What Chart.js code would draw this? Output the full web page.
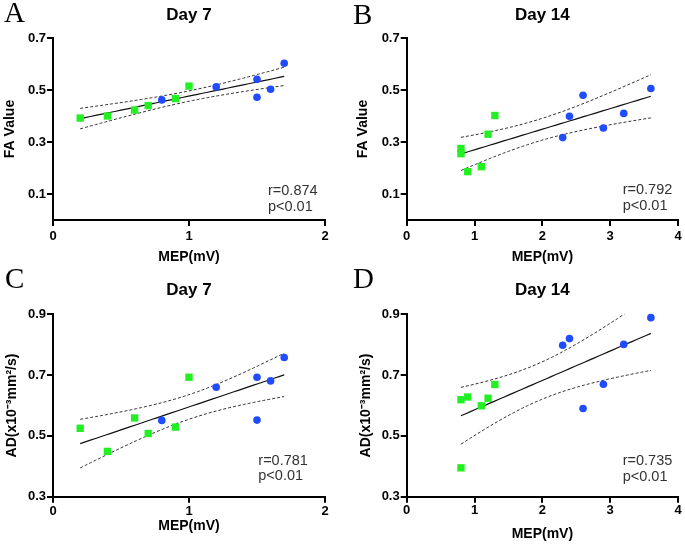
<!DOCTYPE html>
<html>
<head>
<meta charset="utf-8">
<script src="https://cdn.jsdelivr.net/npm/chart.js@4.4.1/dist/chart.umd.min.js"></script>
<style>
    body { margin: 0; background: #fff; }
    #wrap { position: relative; width: 685px; height: 545px; }
    #wrap canvas { position: absolute; left: 0; top: 0; }
</style>
</head>
<body>
<div id="wrap">
    <canvas id="pA" width="685" height="545"></canvas>
    <canvas id="pB" width="685" height="545"></canvas>
    <canvas id="pC" width="685" height="545"></canvas>
    <canvas id="pD" width="685" height="545"></canvas>
</div>
<script>
// === Data ===
// Panel A: Day 7, FA value vs MEP
const aSquareX = [0.2, 0.4, 0.6, 0.7, 0.9, 1.0];
const aSquareY = [0.392, 0.400, 0.423, 0.440, 0.467, 0.515];
const aCircleX = [0.8, 1.2, 1.5, 1.5, 1.6, 1.7];
const aCircleY = [0.462, 0.512, 0.541, 0.472, 0.503, 0.603];

// Panel B: Day 14, FA value vs MEP
const bSquareX = [0.8, 0.8, 0.9, 1.1, 1.2, 1.3];
const bSquareY = [0.275, 0.255, 0.186, 0.205, 0.330, 0.402];
const bCircleX = [2.3, 2.4, 2.6, 2.9, 3.2, 3.6];
const bCircleY = [0.317, 0.399, 0.480, 0.354, 0.410, 0.506];

// Panel C: Day 7, AD vs MEP
const cSquareX = [0.2, 0.4, 0.6, 0.7, 0.9, 1.0];
const cSquareY = [0.525, 0.449, 0.559, 0.508, 0.529, 0.693];
const cCircleX = [0.8, 1.2, 1.5, 1.5, 1.6, 1.7];
const cCircleY = [0.551, 0.660, 0.693, 0.552, 0.681, 0.758];

// Panel D: Day 14, AD vs MEP
const dSquareX = [0.8, 0.9, 1.1, 1.2, 1.3, 0.8];
const dSquareY = [0.619, 0.628, 0.599, 0.624, 0.669, 0.395];
const dCircleX = [2.3, 2.4, 2.6, 2.9, 3.2, 3.6];
const dCircleY = [0.798, 0.820, 0.590, 0.670, 0.801, 0.889];

// Ticks
const faTicks = [0.1, 0.3, 0.5, 0.7];
const adTicks = [0.3, 0.5, 0.7, 0.9];
const mepTicksDay7 = [0, 1, 2];
const mepTicksDay14 = [0, 1, 2, 3, 4];

// Stats text
const statsA = ['r=0.874', 'p<0.01'];
const statsB = ['r=0.792', 'p<0.01'];
const statsC = ['r=0.781', 'p<0.01'];
const statsD = ['r=0.735', 'p<0.01'];

const SANS = '"Liberation Sans", Arial, Helvetica, sans-serif';
const SERIF = '"Liberation Serif", "Times New Roman", serif';
const GREEN = '#22f022';
const BLUE = '#1f4cff';
const T_95 = 2.228; // t(0.975), df = 10

const pts = (xs, ys) => xs.map((x, i) => ({ x, y: ys[i] }));

// least squares line + 95% confidence band of the mean
function linFit(xs, ys) {
    const n = xs.length;
    const mx = xs.reduce((a, b) => a + b, 0) / n;
    const my = ys.reduce((a, b) => a + b, 0) / n;
    let sxx = 0, sxy = 0;
    xs.forEach((x, i) => { sxx += (x - mx) ** 2; sxy += (x - mx) * (ys[i] - my); });
    const b = sxy / sxx, a = my - b * mx;
    let sse = 0;
    xs.forEach((x, i) => { sse += (ys[i] - a - b * x) ** 2; });
    const s = Math.sqrt(sse / (n - 2));
    const lo = Math.min(...xs), hi = Math.max(...xs);
    const line = [], upper = [], lower = [];
    for (let k = 0; k <= 40; k++) {
        const x = lo + (hi - lo) * k / 40;
        const yh = a + b * x;
        const h = T_95 * s * Math.sqrt(1 / n + (x - mx) ** 2 / sxx);
        line.push({ x, y: yh });
        upper.push({ x, y: yh + h });
        lower.push({ x, y: yh - h });
    }
    return { line, upper, lower };
}

const panelText = {
    id: 'panelText',
    afterDraw(chart, args, o) {
        const ctx = chart.ctx;
        const ca = chart.chartArea;
        ctx.save();
        ctx.fillStyle = '#000';
        ctx.textBaseline = 'alphabetic';
        ctx.textAlign = 'left';
        ctx.font = '29px ' + SERIF;
        ctx.fillText(o.letter, o.letterX, o.letterY);
        ctx.textAlign = 'center';
        ctx.font = 'bold 17px ' + SANS;
        ctx.fillText(o.title, (ca.left + ca.right) / 2, o.titleY);
        ctx.textAlign = 'left';
        ctx.font = '14.5px ' + SANS;
        ctx.fillStyle = '#333';
        o.stats.forEach((s, i) => ctx.fillText(s, o.statsX, o.statsY + i * o.statsGap));
        ctx.restore();
    }
};

function makePanel(id, cfg) {
    const fit = linFit(cfg.sqX.concat(cfg.ciX), cfg.sqY.concat(cfg.ciY));
    const tickFont = { family: SANS, size: 13, weight: 'bold' };
    const titleFont = { family: SANS, size: 14, weight: 'bold' };
    return new Chart(document.getElementById(id), {
        type: 'scatter',
        data: {
            datasets: [
                {
                    data: pts(cfg.ciX, cfg.ciY),
                    pointStyle: 'circle', pointRadius: 3.8, pointBorderWidth: 0,
                    backgroundColor: BLUE, borderColor: BLUE, clip: false,
                },
                {
                    data: pts(cfg.sqX, cfg.sqY),
                    pointStyle: 'rect', pointRadius: 5.2, pointBorderWidth: 0,
                    backgroundColor: GREEN, borderColor: GREEN, clip: false,
                },
                {
                    data: fit.line, showLine: true, pointRadius: 0,
                    borderColor: '#111', borderWidth: 1.2,
                },
                {
                    data: fit.upper, showLine: true, pointRadius: 0, tension: 0,
                    borderColor: '#333', borderWidth: 1, borderDash: [3, 2],
                },
                {
                    data: fit.lower, showLine: true, pointRadius: 0, tension: 0,
                    borderColor: '#333', borderWidth: 1, borderDash: [3, 2],
                },
            ],
        },
        options: {
            responsive: false,
            animation: false,
            devicePixelRatio: 1,
            layout: {
                padding: {
                    left: cfg.box.left,
                    top: cfg.area.top,
                    right: 685 - cfg.area.right,
                    bottom: 545 - cfg.box.bottom,
                },
            },
            plugins: {
                legend: { display: false },
                tooltip: { enabled: false },
                panelText: cfg.text,
            },
            scales: {
                x: {
                    type: 'linear', min: 0, max: cfg.xTicks[cfg.xTicks.length - 1],
                    afterBuildTicks: s => { s.ticks = cfg.xTicks.map(v => ({ value: v })); },
                    afterFit: s => { s.height = cfg.box.bottom - cfg.area.bottom; },
                    grid: { drawOnChartArea: false, drawTicks: true, tickLength: 6, color: '#000', lineWidth: 2 },
                    border: { display: true, color: '#000', width: 2 },
                    ticks: { color: '#000', font: tickFont, padding: cfg.xTickPad, maxRotation: 0, callback: v => String(v) },
                    title: { display: true, text: 'MEP(mV)', color: '#000', font: titleFont, padding: { top: 0, bottom: cfg.xTitlePad } },
                },
                y: {
                    type: 'linear', min: cfg.yMin, max: cfg.yMax,
                    afterBuildTicks: s => { s.ticks = cfg.yTicks.map(v => ({ value: v })); },
                    afterFit: s => { s.width = cfg.area.left - cfg.box.left; },
                    grid: { drawOnChartArea: false, drawTicks: true, tickLength: 6, color: '#000', lineWidth: 2 },
                    border: { display: true, color: '#000', width: 2 },
                    ticks: { color: '#000', font: tickFont, padding: 1, callback: v => v.toFixed(1) },
                    title: { display: true, text: cfg.yTitle, color: '#000', font: titleFont, padding: { top: cfg.yTitlePad, bottom: 0 } },
                },
            },
        },
        plugins: [panelText],
    });
}

makePanel('pA', {
    box: { left: 0, bottom: 270 }, area: { left: 53, right: 325, top: 38, bottom: 220 },
    sqX: aSquareX, sqY: aSquareY, ciX: aCircleX, ciY: aCircleY,
    xTicks: mepTicksDay7, yTicks: faTicks, yMin: 0, yMax: 0.7,
    yTitle: 'FA Value', yTitlePad: 1.5, xTickPad: 3, xTitlePad: 4.5,
    text: { letter: 'A', letterX: 4, letterY: 22, title: 'Day 7', titleY: 19.5,
            stats: statsA, statsX: 268, statsY: 194.5, statsGap: 16.5 },
});

makePanel('pB', {
    box: { left: 340, bottom: 270 }, area: { left: 406.7, right: 678, top: 38, bottom: 220 },
    sqX: bSquareX, sqY: bSquareY, ciX: bCircleX, ciY: bCircleY,
    xTicks: mepTicksDay14, yTicks: faTicks, yMin: 0, yMax: 0.7,
    yTitle: 'FA Value', yTitlePad: 14.5, xTickPad: 3, xTitlePad: 4.5,
    text: { letter: 'B', letterX: 353, letterY: 24, title: 'Day 14', titleY: 19.5,
            stats: statsB, statsX: 622.7, statsY: 193.5, statsGap: 16 },
});

makePanel('pC', {
    box: { left: 0, bottom: 545 }, area: { left: 53, right: 325, top: 314.3, bottom: 496.7 },
    sqX: cSquareX, sqY: cSquareY, ciX: cCircleX, ciY: cCircleY,
    xTicks: mepTicksDay7, yTicks: adTicks, yMin: 0.3, yMax: 0.9,
    yTitle: 'AD(x10⁻³mm²/s)', yTitlePad: 4, xTickPad: 1, xTitlePad: 10,
    text: { letter: 'C', letterX: 5, letterY: 288, title: 'Day 7', titleY: 295,
            stats: statsC, statsX: 258.3, statsY: 464.5, statsGap: 15 },
});

makePanel('pD', {
    box: { left: 340, bottom: 545 }, area: { left: 406.7, right: 678, top: 314.3, bottom: 496.7 },
    sqX: dSquareX, sqY: dSquareY, ciX: dCircleX, ciY: dCircleY,
    xTicks: mepTicksDay14, yTicks: adTicks, yMin: 0.3, yMax: 0.9,
    yTitle: 'AD(x10⁻³mm²/s)', yTitlePad: 17.5, xTickPad: 0, xTitlePad: 2,
    text: { letter: 'D', letterX: 353, letterY: 288, title: 'Day 14', titleY: 295,
            stats: statsD, statsX: 622.7, statsY: 464.5, statsGap: 16.5 },
});
</script>
</body>
</html>
